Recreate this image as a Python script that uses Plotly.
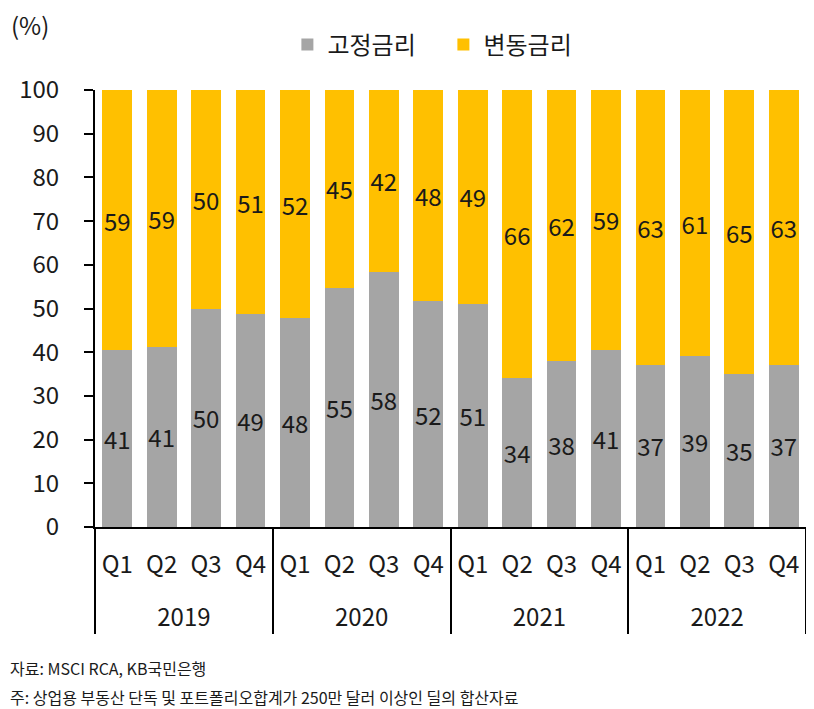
import plotly.graph_objects as go

years = ["2019"] * 4 + ["2020"] * 4 + ["2021"] * 4 + ["2022"] * 4
quarters = ["Q1", "Q2", "Q3", "Q4"] * 4

# 고정금리 / 변동금리 share (%)
fixed = [40.5, 41.3, 50.0, 48.7, 47.8, 54.8, 58.4, 51.7,
         51.1, 34.0, 37.9, 40.6, 37.1, 39.1, 34.9, 37.1]
variable = [59.5, 58.7, 50.0, 51.3, 52.2, 45.2, 41.6, 48.3,
            48.9, 66.0, 62.1, 59.4, 62.9, 60.9, 65.1, 62.9]
fixed_labels = ["41", "41", "50", "49", "48", "55", "58", "52",
                "51", "34", "38", "41", "37", "39", "35", "37"]
variable_labels = ["59", "59", "50", "51", "52", "45", "42", "48",
                   "49", "66", "62", "59", "63", "61", "65", "63"]

# the page body has an 8px margin, so the figure starts at (8, 8)
OFF = 8
W, H = 814 - OFF, 709 - OFF
L, R, T, B = 95 - OFF, 8, 90 - OFF, 182
FONT = "Noto Sans CJK KR"
TXT = "#1a1a1a"


def px_x(x):
    return (x - OFF - L) / (W - L - R)


def px_y(y):
    return (H - B - (y - OFF)) / (H - T - B)


# year row sits one line below the quarter row, like the original
x_cats = [[" <br>" + y for y in years], quarters]

fig = go.Figure()
fig.add_trace(go.Bar(
    x=x_cats, y=fixed, name="고정금리",
    marker=dict(color="#A5A5A5", line=dict(width=0)),
    text=fixed_labels, textposition="inside", insidetextanchor="middle",
    textangle=0, constraintext="none",
    textfont=dict(family=FONT, size=24, color=TXT),
))
fig.add_trace(go.Bar(
    x=x_cats, y=variable, name="변동금리",
    marker=dict(color="#FFC000", line=dict(width=0)),
    text=variable_labels, textposition="inside", insidetextanchor="middle",
    textangle=0, constraintext="none",
    textfont=dict(family=FONT, size=24, color=TXT),
))

fig.update_layout(
    width=W, height=H,
    margin=dict(l=L, r=R, t=T, b=B),
    barmode="stack", bargap=0.33,
    plot_bgcolor="white", paper_bgcolor="white",
    font=dict(family=FONT, size=24, color=TXT),
    legend=dict(orientation="h", x=0.49, xanchor="center", y=px_y(45),
                yanchor="middle", font=dict(size=24), traceorder="normal",
                entrywidth=111),
    uniformtext=dict(mode=False),
)
fig.update_xaxes(
    type="multicategory", showline=True, linecolor="black", linewidth=2,
    ticks="", ticklabelstandoff=15,
    showdividers=True, dividercolor="black", dividerwidth=2,
    tickfont=dict(size=24, color=TXT), showgrid=False,
)
fig.update_yaxes(
    range=[0, 100], dtick=10, showline=True, linecolor="black", linewidth=2,
    ticks="outside", ticklen=9, tickwidth=2, tickcolor="black",
    ticklabelstandoff=20,
    showgrid=False, zeroline=False, tickfont=dict(size=24, color=TXT),
)

fig.add_annotation(text="(%)", xref="paper", yref="paper", x=px_x(9), y=px_y(25),
                   xanchor="left", yanchor="middle", showarrow=False,
                   font=dict(size=24, color=TXT))
fig.add_annotation(text="자료: MSCI RCA, KB국민은행", xref="paper", yref="paper",
                   x=px_x(8), y=px_y(668), xanchor="left", yanchor="middle",
                   showarrow=False, font=dict(size=16, color=TXT))
fig.add_annotation(text="주: 상업용 부동산 단독 및 포트폴리오합계가 250만 달러 이상인 딜의 합산자료",
                   xref="paper", yref="paper", x=px_x(8), y=px_y(697),
                   xanchor="left", yanchor="middle", showarrow=False,
                   font=dict(size=16, color=TXT))

fig.write_html("out.html")
